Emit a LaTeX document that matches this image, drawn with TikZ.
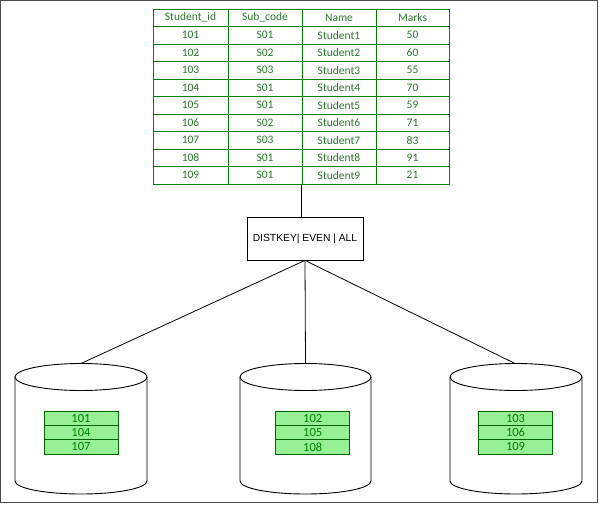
\documentclass[tikz,border=0pt]{standalone}
\usepackage{fontspec}
\setmainfont{Carlito}
\newfontfamily\boxfont{Liberation Sans}
\definecolor{tgreen}{RGB}{0,128,0}
\definecolor{ttext}{RGB}{40,120,40}
\definecolor{lgreen}{RGB}{150,240,150}
\definecolor{igreen}{RGB}{0,100,0}
\tikzset{
  cell/.style={draw=tgreen, line width=0.9pt, inner sep=0pt, minimum height=17.5pt, text=ttext, font=\fontsize{11.5}{13}\selectfont},
  icell/.style={draw=igreen, line width=0.8pt, fill=lgreen, inner sep=0pt, minimum width=74pt, minimum height=14.33pt, text=tgreen, font=\fontsize{12.5}{13}\selectfont},
  link/.style={draw=black, line width=0.8pt},
  cyl/.style={draw=black, line width=0.9pt, fill=white}
}
\begin{document}
\begin{tikzpicture}[x=1pt,y=1pt]
\useasboundingbox (0,0) rectangle (599,504);
\draw[black!70, line width=1.2pt] (0.6,503.4) rectangle (597.4,1.6);
% main table
\foreach \r [count=\i from 0] in {
  {Student\_id,Sub\_code,Name,Marks},
  {101,S01,Student1,50},{102,S02,Student2,60},{103,S03,Student3,55},
  {104,S01,Student4,70},{105,S01,Student5,59},{106,S02,Student6,71},
  {107,S03,Student7,83},{108,S01,Student8,91},{109,S01,Student9,21}}{
  \foreach \t [count=\j from 1] in \r {
    \ifcase\j\or
      \node[cell, minimum width=75pt] (c-\i-\j) at (190.5, 495-17.5*\i-8.75) {\t};
    \or
      \node[cell, minimum width=74pt] (c-\i-\j) at (265, 495-17.5*\i-8.75) {\t};
    \or
      \node[cell, minimum width=74pt] (c-\i-\j) at (339, 495-17.5*\i-8.75) {\t};
    \or
      \node[cell, minimum width=73pt] (c-\i-\j) at (412.5, 495-17.5*\i-8.75) {\t};
    \fi
  }
}
\coordinate (tbl) at (301,320);
% distribution box
\node[draw=black, line width=0.8pt, minimum width=116pt, minimum height=43pt, inner sep=0pt, font=\boxfont\fontsize{10.3}{12}\selectfont] (box) at (305,265.5) {DISTKEY| EVEN | ALL};
\draw[link] (tbl) -- (tbl |- box.north);
% cylinders
\foreach \cx/\rx/\nm in {81/66/L, 305.5/65.5/M, 516/66/R}{
  \draw[cyl] (\cx-\rx,127) -- (\cx-\rx,23) arc[start angle=180, end angle=360, x radius=\rx, y radius=13] -- (\cx+\rx,127);
  \draw[cyl] (\cx,127) ellipse [x radius=\rx, y radius=13.5];
  \coordinate (top\nm) at (\cx,140.5);
}
\coordinate (topR) at (515,140.5);
\draw[link] (box.south) -- (topL);
\draw[link] (box.south) -- (topM);
\draw[link] (box.south) -- (topR);
% inner tables
\foreach \cx/\a/\b/\c/\nm in {81/101/104/107/L, 312.7/102/105/108/M, 515.5/103/106/109/R}{
  \node[icell] (\nm1) at (\cx,85.83) {\a};
  \node[icell] (\nm2) at (\cx,71.5) {\b};
  \node[icell] (\nm3) at (\cx,57.17) {\c};
}
\end{tikzpicture}
\end{document}
